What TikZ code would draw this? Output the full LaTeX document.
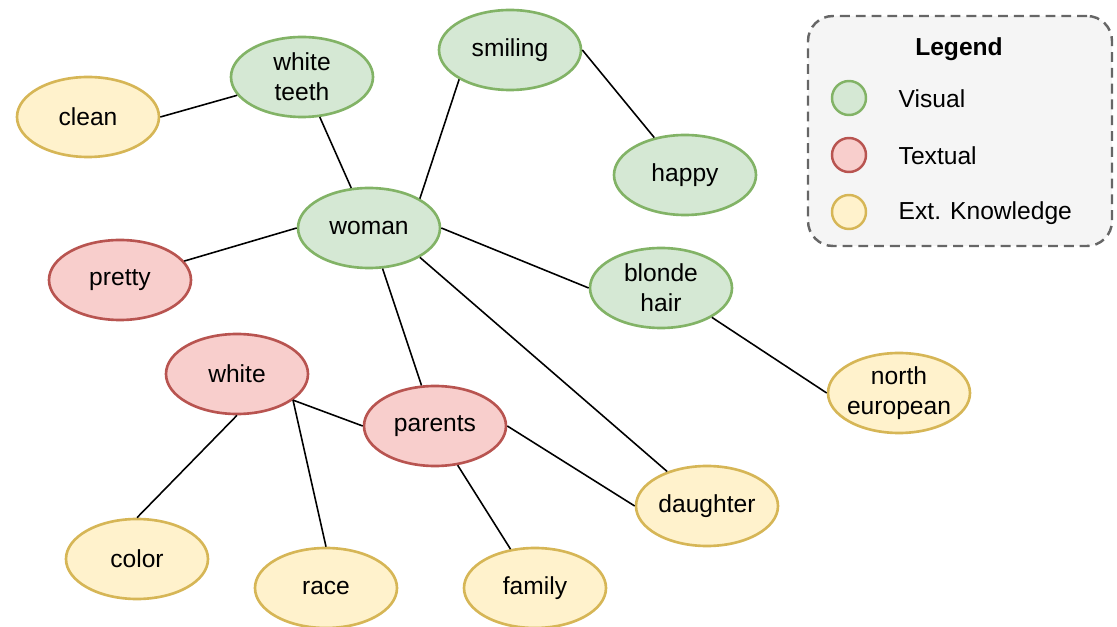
\documentclass[tikz,border=0pt]{standalone}
\usepackage{fontspec}
\setmainfont{Liberation Sans}
\usepackage{tikz}
\usetikzlibrary{shapes.geometric, positioning}
\definecolor{visfill}{HTML}{D5E8D4}
\definecolor{visline}{HTML}{82B366}
\definecolor{txtfill}{HTML}{F8CECC}
\definecolor{txtline}{HTML}{B85450}
\definecolor{extfill}{HTML}{FFF2CC}
\definecolor{extline}{HTML}{D6B656}
\definecolor{legfill}{HTML}{F5F5F5}
\definecolor{legline}{HTML}{666666}

\begin{document}
\begin{tikzpicture}[
  concept/.style={ellipse, draw, line width=0.75pt, minimum width=1.42cm, minimum height=0.80cm, inner sep=0pt, align=center, font=\fontsize{7}{8.5}\selectfont},
  visual/.style={concept, draw=visline, fill=visfill},
  textual/.style={concept, draw=txtline, fill=txtfill},
  extknow/.style={concept, draw=extline, fill=extfill},
  key/.style={circle, line width=0.7pt, minimum size=0.34cm, inner sep=0pt},
  keytext/.style={anchor=west, inner sep=0pt, font=\fontsize{7}{8.5}\selectfont},
  link/.style={line width=0.45pt, black}
]
\useasboundingbox (0,0) rectangle (11.17,-6.27);

% Legend
\node[draw=legline, fill=legfill, dashed, dash pattern=on 2.8pt off 1.7pt, line width=0.7pt, rounded corners=0.25cm, minimum width=3.04cm, minimum height=2.30cm] (legend) at (9.60,-1.31) {};
\node[font=\fontsize{7}{8.5}\selectfont\bfseries] (legendtitle) at (9.59,-0.49) {Legend};
\node[key, draw=visline, fill=visfill] (keyvis) at (8.49,-0.98) {};
\node[keytext] (keyvistxt) at (8.98,-0.99) {Visual};
\node[key, draw=txtline, fill=txtfill] (keytxt) at (8.49,-1.55) {};
\node[keytext] (keytxttxt) at (8.98,-1.56) {Textual};
\node[key, draw=extline, fill=extfill] (keyext) at (8.49,-2.12) {};
\node[keytext] (keyexttxt) at (8.98,-2.13) {Ext. Knowledge};

% Visual concepts
\node[visual] (woman) at (3.69,-2.28) {woman};
\node[visual] (teeth) at (3.02,-0.77) {white\\teeth};
\node[visual] (smiling) at (5.10,-0.50) {smiling};
\node[visual] (happy) at (6.85,-1.75) {happy};
\node[visual] (blonde) at (6.61,-2.88) {blonde\\hair};

% Textual concepts
\node[textual] (pretty) at (1.20,-2.80) {pretty};
\node[textual] (white) at (2.37,-3.74) {white};
\node[textual] (parents) at (4.35,-4.26) {parents};

% External knowledge
\node[extknow] (clean) at (0.88,-1.17) {clean};
\node[extknow, inner xsep=-0.8pt] (northeu) at (8.99,-3.93) {north\\european};
\node[extknow] (daughter) at (7.07,-5.06) {daughter};
\node[extknow] (color) at (1.37,-5.59) {color};
\node[extknow] (race) at (3.26,-5.88) {race};
\node[extknow] (family) at (5.35,-5.88) {family};

% Connections
\draw[link] (clean.east) -- (teeth);
\draw[link] (teeth) -- (woman);
\draw[link] (smiling.210) -- (woman.30);
\draw[link] (smiling.east) -- (happy);
\draw[link] (woman.west) -- (pretty);
\draw[link] (woman.east) -- (blonde.west);
\draw[link] (woman) -- (parents);
\draw[link] (woman.330) -- (daughter);
\draw[link] (blonde.330) -- (northeu.west);
\draw[link] (white.335) -- (parents.west);
\draw[link] (white.south) -- (color.north);
\draw[link] (white.335) -- (race.north);
\draw[link] (parents.east) -- (daughter.west);
\draw[link] (parents.300) -- (family);
\end{tikzpicture}
\end{document}
